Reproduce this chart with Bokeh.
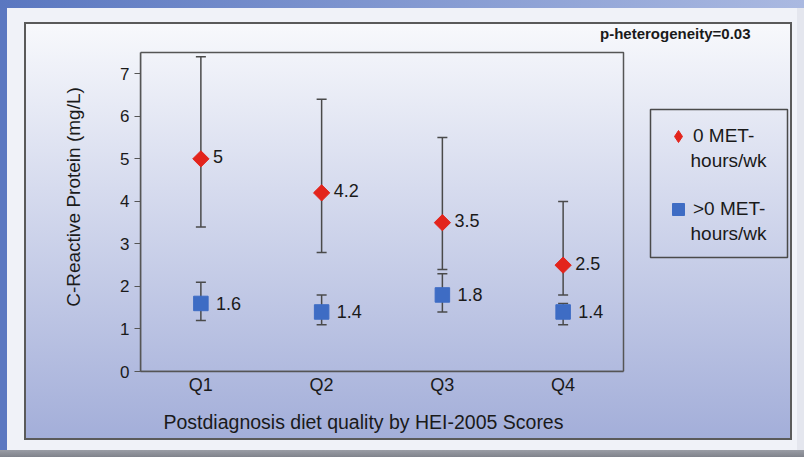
import numpy as np
from bokeh.plotting import figure
from bokeh.models import (ColumnDataSource, Whisker, TeeHead, LabelSet, Label, Title,
                          BoxAnnotation, Legend, LegendItem, FixedTicker, Range1d)
from bokeh.core.properties import value
from bokeh.embed import file_html
from bokeh.resources import INLINE

# ---------------- data ----------------
categories = ["Q1", "Q2", "Q3", "Q4"]
met0_mean = [5.0, 4.2, 3.5, 2.5]
met0_lower = [3.4, 2.8, 2.4, 1.8]
met0_upper = [7.4, 6.4, 5.5, 4.0]
met0_text = ["5", "4.2", "3.5", "2.5"]
met1_mean = [1.6, 1.4, 1.8, 1.4]
met1_lower = [1.2, 1.1, 1.4, 1.1]
met1_upper = [2.1, 1.8, 2.3, 1.6]
met1_text = ["1.6", "1.4", "1.8", "1.4"]
y_ticks = [0, 1, 2, 3, 4, 5, 6, 7]
y_max = 7.5
series_names = ["0 MET-", ">0 MET-"]
series_sub = "hours/wk"
note_text = "p-heterogeneity=0.03"
x_title = "Postdiagnosis diet quality  by HEI-2005 Scores"
y_title = "C-Reactive Protein (mg/L)"

# ---------------- style ----------------
RED = "#e3241c"
BLUE = "#3e6cc4"
BAR = "#4a4a4a"
TXT = "#1a1a1a"
LINE = "#555555"
FONT = "Liberation Sans"

W, H = 804, 457
# frame (canvas px); the plotting box itself covers x 0..4, y 0..7.5 inside it
FL, FR, FT, FB = 140, 792, 22, 371
PX_PER_CAT = 120.75
PX_PER_Y = 42.53

x_pos = [i + 0.5 for i in range(len(categories))]
src0 = ColumnDataSource(dict(x=x_pos, mean=met0_mean, lo=met0_lower,
                             hi=met0_upper, txt=met0_text))
src1 = ColumnDataSource(dict(x=x_pos, mean=met1_mean, lo=met1_lower,
                             hi=met1_upper, txt=met1_text))

p = figure(width=W, height=H, title=None,
           x_range=Range1d(0, (FR - FL) / PX_PER_CAT),
           y_range=Range1d(0, (FB - FT) / PX_PER_Y),
           output_backend="svg", toolbar_location=None,
           min_border_left=FL, min_border_right=W - FR,
           min_border_top=FT, min_border_bottom=H - FB)
p.xgrid.visible = False
p.ygrid.visible = False
p.background_fill_color = None
p.border_fill_color = None
p.outline_line_color = None

# page backdrop (slide frame, panel gradient, panel border) via CSS
def solid(c):
    return "linear-gradient(%s,%s)" % (c, c)

layers = [
    (solid("#5a5a5a"), "24px 22px", "768px 2px"),
    (solid("#5a5a5a"), "24px 438px", "768px 2px"),
    (solid("#5a5a5a"), "24px 22px", "2px 418px"),
    (solid("#5a5a5a"), "790px 22px", "2px 418px"),
    ("linear-gradient(#f8f9fc, #a3aed9)", "24px 22px", "768px 418px"),
    ("linear-gradient(to right, #5a77c0, #aab9e1)", "0px 0px", "804px 8px"),
    (solid("#5b78c1"), "0px 0px", "7px 450px"),
    ("linear-gradient(#9a9da5, #80838c)", "0px 450px", "804px 7px"),
    (solid("#e4e6ee"), "797px 8px", "7px 442px"),
]
p.styles = {
    "background-color": "#f0f2f8",
    "background-image": ", ".join(l[0] for l in layers),
    "background-position": ", ".join(l[1] for l in layers),
    "background-size": ", ".join(l[2] for l in layers),
    "background-repeat": "no-repeat",
}

# plotting box outline
p.add_layout(BoxAnnotation(left=0, right=len(categories), bottom=0, top=y_max,
                           fill_color=None, line_color=LINE, line_alpha=1,
                           line_width=1.5, level="underlay"))

# error bars
for src in (src0, src1):
    p.add_layout(Whisker(base="x", lower="lo", upper="hi", source=src,
                         line_color=BAR, line_width=1.5,
                         upper_head=TeeHead(size=10, line_color=BAR, line_width=1.5),
                         lower_head=TeeHead(size=10, line_color=BAR, line_width=1.5)))

# legend key glyph for red series (hidden under the rotated squares)
r_red_key = p.scatter(x="x", y="mean", source=src0, marker="diamond", size=13,
                      fill_color=RED, line_color=RED)
r_red = p.scatter(x="x", y="mean", source=src0, marker="square", angle=np.pi / 4,
                  size=11.5, fill_color=RED, line_color=RED)
r_blue = p.scatter(x="x", y="mean", source=src1, marker="square",
                   size=14.5, fill_color=BLUE, line_color=BLUE)

p.add_layout(LabelSet(x="x", y="mean", text="txt", source=src0, x_offset=12,
                      y_offset=2, text_baseline="middle", text_font_size="18px",
                      text_font=value(FONT), text_color=TXT))
p.add_layout(LabelSet(x="x", y="mean", text="txt", source=src1, x_offset=15,
                      y_offset=0, text_baseline="middle", text_font_size="18px",
                      text_font=value(FONT), text_color=TXT))

# axes
p.yaxis.ticker = FixedTicker(ticks=y_ticks)
p.yaxis.bounds = (0, y_max)
p.yaxis.major_tick_out = 6
p.yaxis.major_tick_in = 0
p.yaxis.minor_tick_line_color = None
p.yaxis.axis_line_color = LINE
p.yaxis.axis_line_width = 1.5
p.yaxis.major_tick_line_color = LINE
p.yaxis.major_label_text_font_size = "17px"
p.yaxis.major_label_text_font = FONT
p.yaxis.major_label_text_color = TXT
p.yaxis.major_label_standoff = 5

p.xaxis.ticker = FixedTicker(ticks=x_pos)
p.xaxis.major_label_overrides = {xp: c for xp, c in zip(x_pos, categories)}
p.xaxis.bounds = (0, len(categories))
p.xaxis.major_tick_out = 0
p.xaxis.major_tick_in = 0
p.xaxis.minor_tick_line_color = None
p.xaxis.axis_line_color = LINE
p.xaxis.axis_line_width = 1.5
p.xaxis.major_label_text_font_size = "18px"
p.xaxis.major_label_text_font = FONT
p.xaxis.major_label_text_color = TXT
p.xaxis.major_label_standoff = 3

# axis titles
p.add_layout(Title(text=x_title, align="left", offset=23, standoff=23,
                   text_font=FONT, text_font_size="19.5px", text_font_style="normal",
                   text_color=TXT), "below")
p.add_layout(Title(text=y_title, align="center", offset=7, standoff=67,
                   text_font=FONT, text_font_size="19px", text_font_style="normal",
                   text_color=TXT), "left")

# note
p.add_layout(Label(x=750, y=33, x_units="canvas", y_units="canvas", text=note_text,
                   text_align="right", text_baseline="middle",
                   text_font_size="15px", text_font=FONT, text_font_style="bold",
                   text_color=TXT))

# legend
legend = Legend(items=[LegendItem(label=value(series_names[0]), renderers=[r_red_key]),
                       LegendItem(label=value(series_names[1]), renderers=[r_blue])],
                location=(523, 147), border_line_color=None,
                background_fill_alpha=0, padding=0, margin=0, spacing=43,
                glyph_width=30, glyph_height=30, label_standoff=-8,
                label_text_font_size="19px", label_text_font=FONT,
                label_text_color=TXT)
p.add_layout(legend)
for yy in (160, 233):
    p.add_layout(Label(x=690, y=yy, x_units="canvas", y_units="canvas", text=series_sub,
                       text_align="left", text_baseline="middle",
                       text_font_size="19px", text_font=FONT, text_color=TXT))
p.add_layout(BoxAnnotation(left=650, right=787, top=109, bottom=257,
                           left_units="canvas", right_units="canvas",
                           top_units="canvas", bottom_units="canvas",
                           fill_color=None, line_color="#4a4a4a", line_alpha=1,
                           line_width=1.5))

open("out.html", "w").write(file_html(p, INLINE))
